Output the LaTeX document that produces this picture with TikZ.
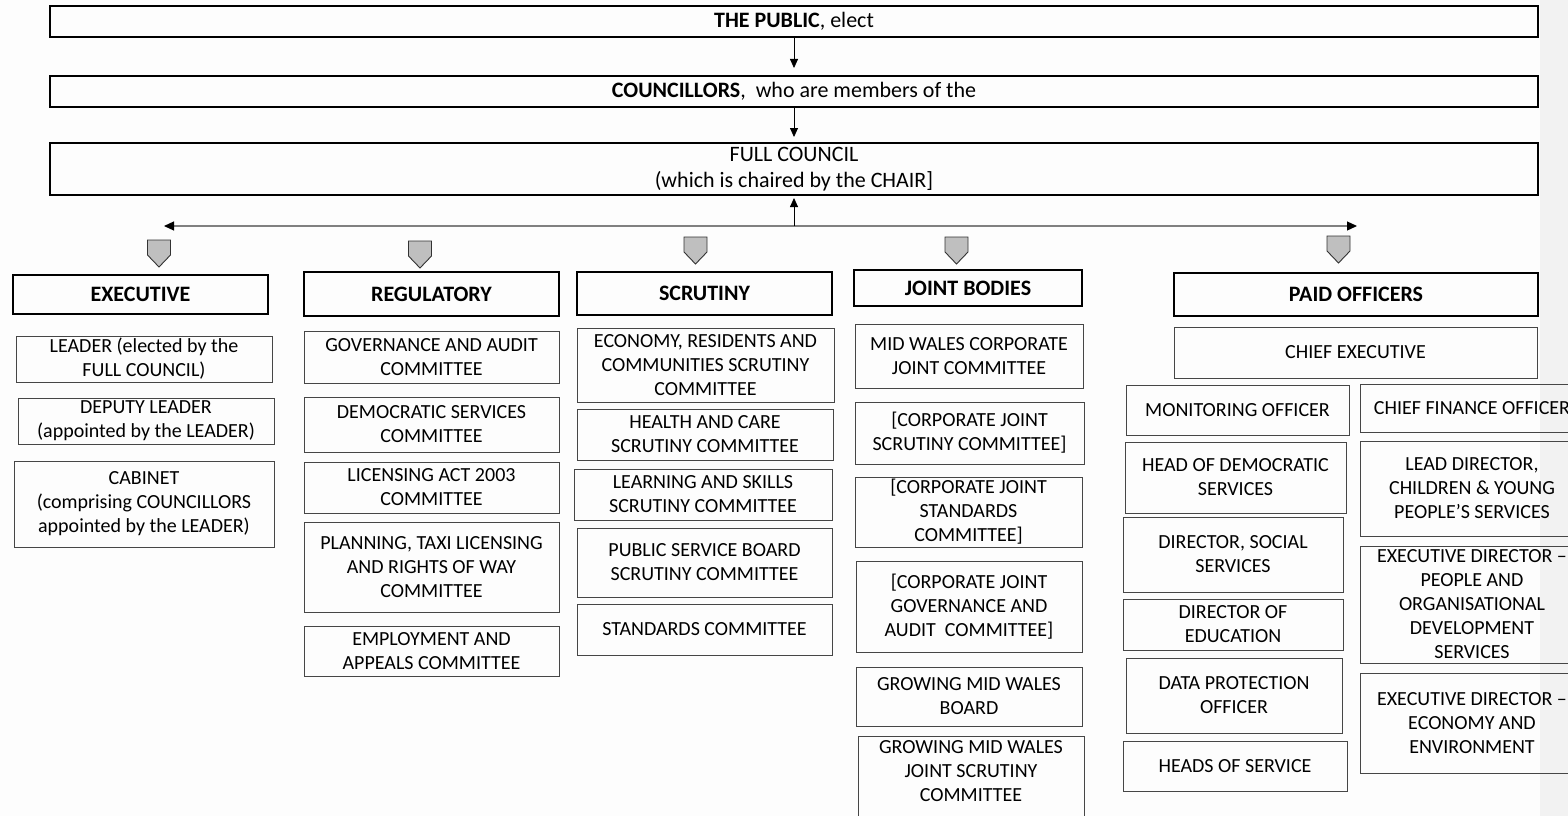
\documentclass[tikz,border=0pt]{standalone}
\usepackage{fontspec}
\setmainfont{Carlito}
\usetikzlibrary{arrows.meta}
\definecolor{bgc}{RGB}{253,253,253}
\definecolor{bandc}{RGB}{242,242,242}
\definecolor{pentafill}{RGB}{191,191,191}
\definecolor{itemline}{RGB}{70,70,70}
\definecolor{hline}{RGB}{128,128,128}
\begin{document}
\begin{tikzpicture}[x=1pt,y=-1pt,
 base/.style={anchor=north west, inner sep=0pt, outer sep=0pt, align=center, font=\fontsize{20}{24}\selectfont},
 topbox/.style={base, draw=black, line width=1.4pt, font=\fontsize{22}{26}\selectfont},
 headbox/.style={base, draw=black, line width=1.4pt, font=\fontsize{22}{26}\selectfont\bfseries},
 itembox/.style={base, draw=itemline, line width=0.9pt},
 dn/.style={-{Triangle[length=9pt,width=8pt]}, line width=0.8pt},
 side/.style={draw=hline, line width=1.2pt, -{Triangle[length=10pt,width=9pt,color=black]}},
 penta/.pic={\draw[fill=pentafill, draw=black!80, line width=0.9pt] (-11.5,0) -- (11.5,0) -- (11.5,15) -- (0,27) -- (-11.5,15) -- cycle;},
]
\useasboundingbox (0,0) rectangle (1568,816);
\clip (0,0) rectangle (1568,816);
\fill[bgc] (0,0) rectangle (1568,816);
\fill[bandc] (1540,0) rectangle (1568,816);

% top
\node[topbox, minimum width=1488pt, minimum height=31pt] (public) at (50,6) {{\bfseries THE PUBLIC}, elect};
\node[topbox, minimum width=1488pt, minimum height=31pt] (councillors) at (50,76) {{\bfseries COUNCILLORS},\ \ who are members of the};
\node[topbox, minimum width=1488pt, minimum height=52pt] (fullcouncil) at (50,143) {FULL COUNCIL\\(which is chaired by the CHAIR]};

% headers
\node[headbox, minimum width=255pt, minimum height=39pt] (exec) at (13,275) {EXECUTIVE};
\node[headbox, minimum width=255pt, minimum height=44pt] (reg) at (304,272) {REGULATORY};
\node[headbox, minimum width=255pt, minimum height=43pt] (scr) at (577,272) {SCRUTINY};
\node[headbox, minimum width=228pt, minimum height=36pt] (joint) at (854,270) {JOINT BODIES};
\node[headbox, minimum width=364pt, minimum height=43pt] (paid) at (1174,273) {PAID OFFICERS};

% executive
\node[itembox, minimum width=256pt, minimum height=46pt] (leader) at (16,336) {LEADER (elected by the\\FULL COUNCIL)};
\node[itembox, minimum width=256pt, minimum height=46pt] (deputy) at (18,398) {DEPUTY LEADER\\(appointed by the LEADER)};
\node[itembox, minimum width=260pt, minimum height=86pt] (cabinet) at (14,461) {CABINET\\(comprising COUNCILLORS\\appointed by the LEADER)};

% regulatory
\node[itembox, minimum width=255pt, minimum height=52pt] (gov) at (304,331) {GOVERNANCE AND AUDIT\\COMMITTEE};
\node[itembox, minimum width=255pt, minimum height=55pt] (dem) at (304,397) {DEMOCRATIC SERVICES\\COMMITTEE};
\node[itembox, minimum width=255pt, minimum height=51pt] (lic) at (304,462) {LICENSING ACT 2003\\COMMITTEE};
\node[itembox, minimum width=255pt, minimum height=90pt] (plan) at (304,522) {PLANNING, TAXI LICENSING\\AND RIGHTS OF WAY\\COMMITTEE};
\node[itembox, minimum width=255pt, minimum height=50pt] (emp) at (304,626) {EMPLOYMENT AND\\APPEALS COMMITTEE};

% scrutiny
\node[itembox, minimum width=257pt, minimum height=74pt] (econ) at (577,328) {ECONOMY, RESIDENTS AND\\COMMUNITIES SCRUTINY\\COMMITTEE};
\node[itembox, minimum width=256pt, minimum height=51pt] (health) at (577,409) {HEALTH AND CARE\\SCRUTINY COMMITTEE};
\node[itembox, minimum width=258pt, minimum height=51pt] (learn) at (574,469) {LEARNING AND SKILLS\\SCRUTINY COMMITTEE};
\node[itembox, minimum width=255pt, minimum height=69pt] (psb) at (577,528) {PUBLIC SERVICE BOARD\\SCRUTINY COMMITTEE};
\node[itembox, minimum width=255pt, minimum height=51pt] (std) at (577,604) {STANDARDS COMMITTEE};

% joint bodies
\node[itembox, minimum width=228pt, minimum height=64pt] (midw) at (855,324) {MID WALES CORPORATE\\JOINT COMMITTEE};
\node[itembox, minimum width=229pt, minimum height=62pt] (cjsc) at (855,402) {[CORPORATE JOINT\\SCRUTINY COMMITTEE]};
\node[itembox, minimum width=227pt, minimum height=70pt] (cjstd) at (855,477) {[CORPORATE JOINT\\STANDARDS\\COMMITTEE]};
\node[itembox, minimum width=226pt, minimum height=91pt] (cjgov) at (856,561) {[CORPORATE JOINT\\GOVERNANCE AND\\AUDIT\ \ COMMITTEE]};
\node[itembox, minimum width=226pt, minimum height=59pt] (gmwb) at (856,667) {GROWING MID WALES\\BOARD};
\node[itembox, minimum width=226pt, minimum height=102pt] (gmwjs) at (858,736) {GROWING MID WALES\\JOINT SCRUTINY\\COMMITTEE\\\strut};

% paid officers
\node[itembox, minimum width=363pt, minimum height=51pt] (ce) at (1174,327) {CHIEF EXECUTIVE};
\node[itembox, minimum width=223pt, minimum height=50pt] (mon) at (1126,385) {MONITORING OFFICER};
\node[itembox, minimum width=221pt, minimum height=71pt] (hds) at (1125,442) {HEAD OF DEMOCRATIC\\SERVICES};
\node[itembox, minimum width=220pt, minimum height=75pt] (dss) at (1123,517) {DIRECTOR, SOCIAL\\SERVICES};
\node[itembox, minimum width=220pt, minimum height=51pt] (doe) at (1123,599) {DIRECTOR OF\\EDUCATION};
\node[itembox, minimum width=216pt, minimum height=75pt] (dpo) at (1126,658) {DATA PROTECTION\\OFFICER};
\node[itembox, minimum width=224pt, minimum height=50pt] (hos) at (1123,741) {HEADS OF SERVICE};
\node[itembox, minimum width=224pt, minimum height=48pt] (cfo) at (1360,384) {CHIEF FINANCE OFFICER};
\node[itembox, minimum width=224pt, minimum height=95pt] (lead) at (1360,441) {LEAD DIRECTOR,\\CHILDREN \& YOUNG\\PEOPLE’S SERVICES};
\node[itembox, minimum width=224pt, minimum height=117pt] (edp) at (1360,546) {EXECUTIVE DIRECTOR –\\PEOPLE AND\\ORGANISATIONAL\\DEVELOPMENT\\SERVICES};
\node[itembox, minimum width=224pt, minimum height=100pt] (ede) at (1360,673) {EXECUTIVE DIRECTOR –\\ECONOMY AND\\ENVIRONMENT};

% pentagons
\pic at (159,240) {penta};
\pic at (420,241) {penta};
\pic at (695.5,237) {penta};
\pic at (956.5,237) {penta};
\pic at (1338.5,236) {penta};

% connectors
\coordinate (hub) at (794,226);
\coordinate (lend) at (164,226);
\coordinate (rend) at (1357,226);
\draw[dn, shorten >=8pt] (public) -- (councillors);
\draw[dn, shorten >=6pt] (councillors) -- (fullcouncil);
\draw[side] (hub) -- (lend);
\draw[side] (hub) -- (rend);
\draw[dn, shorten >=3pt] (hub) -- (fullcouncil);
\end{tikzpicture}
\end{document}
